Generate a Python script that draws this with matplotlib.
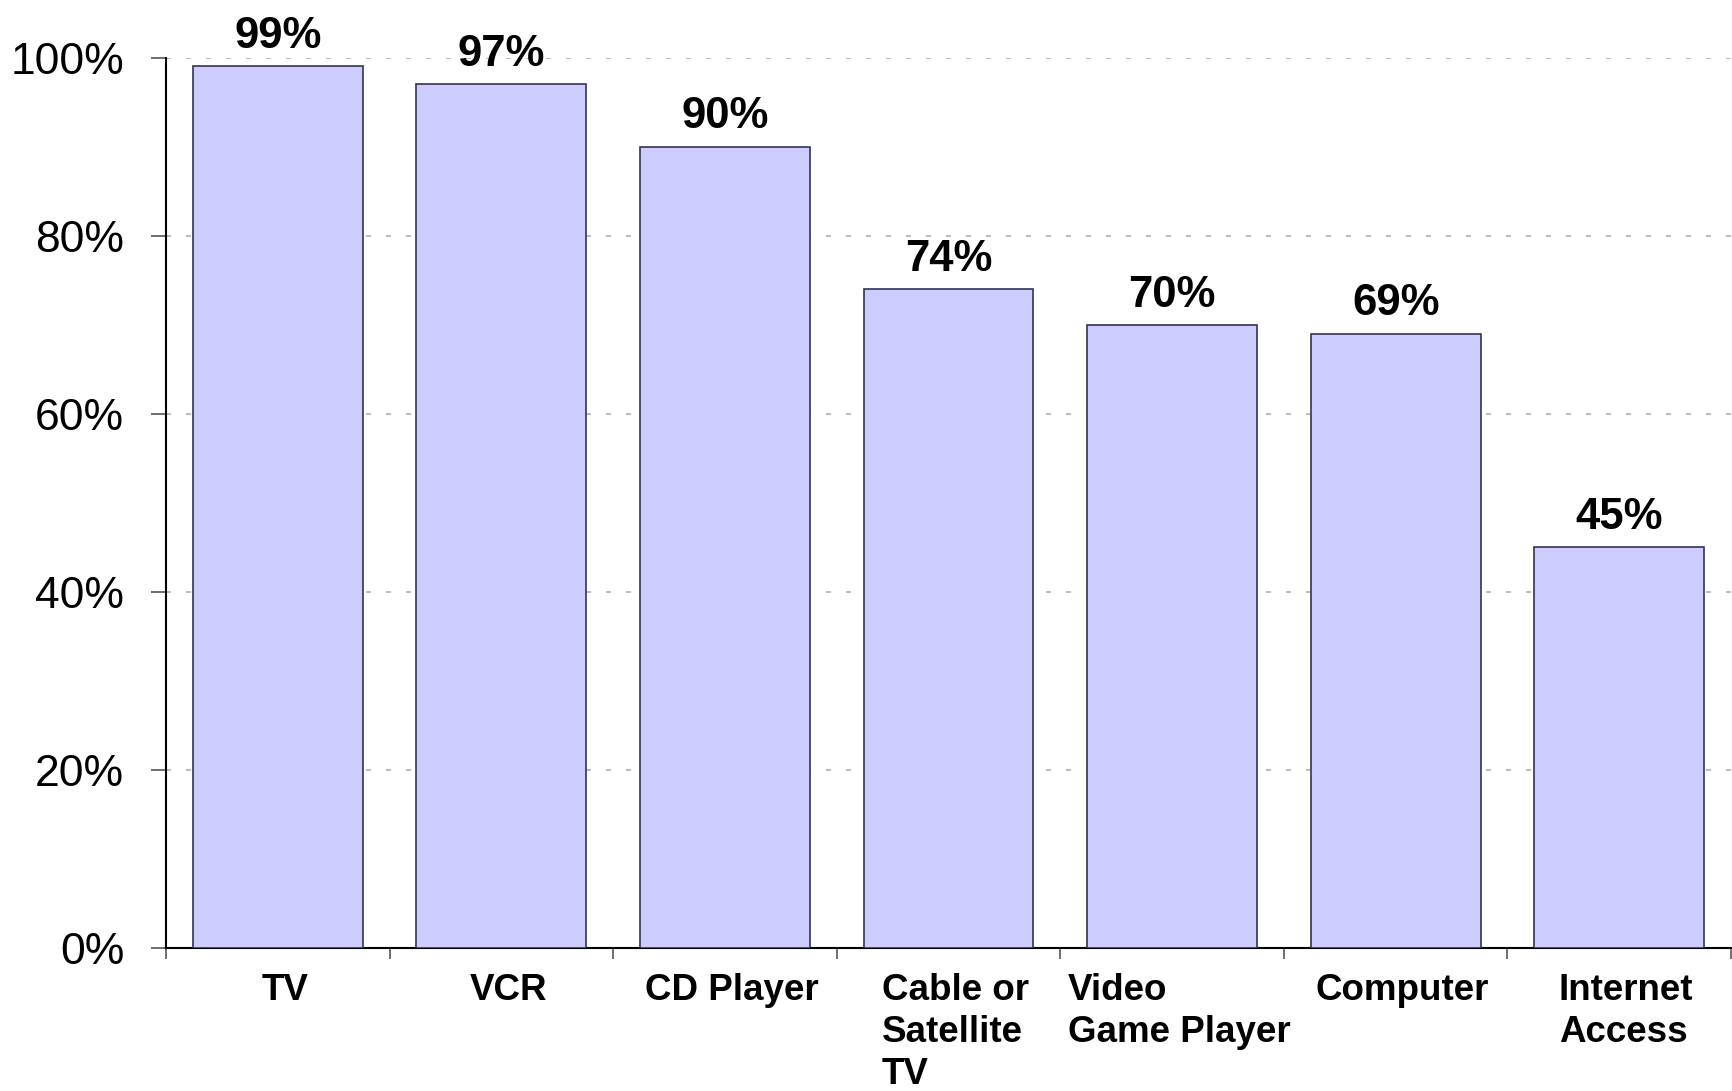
import numpy as np
import matplotlib
matplotlib.use("Agg")
import matplotlib.pyplot as plt
from matplotlib.ticker import PercentFormatter

plt.rcParams["font.family"] = ["Liberation Sans", "DejaVu Sans"]

categories = ["TV", "VCR", "CD Player", "Cable or\nSatellite\nTV",
              "Video\nGame Player", "Computer", "Internet\nAccess"]
values = [99, 97, 90, 74, 70, 69, 45]
y_ticks = [0, 20, 40, 60, 80, 100]

fig = plt.figure(figsize=(17.33, 10.91), dpi=100)
ax = fig.add_axes([166/1733, 143/1091, 1565/1733, 890.5/1091])

x = np.arange(len(categories))
bars = ax.bar(x, values, width=0.76, color="#CCCCFF",
              edgecolor="#333355", linewidth=1.2, zorder=3)

for xi, v in zip(x, values):
    ax.annotate(f"{v}%", (xi, v), xytext=(0, 13), textcoords="offset points",
                ha="center", va="baseline", fontsize=31.5, fontweight="bold")

ax.set_xlim(-0.5, len(categories) - 0.5)
ax.set_ylim(0, 100)
ax.set_yticks(y_ticks)
ax.yaxis.set_major_formatter(PercentFormatter(decimals=0))
ax.tick_params(axis="y", labelsize=32, length=11, width=1.2,
               color="#555555", pad=19)
ax.yaxis.grid(True, color="#b0b0b0", linestyle=(0, (3, 9)), linewidth=1.2)
ax.set_axisbelow(True)

# category boundaries get the ticks, names sit between them
ax.set_xticks(np.arange(len(categories) + 1) - 0.5)
ax.set_xticklabels([])
ax.tick_params(axis="x", length=8, width=1.2, color="#555555")
for xi, name in zip(x, categories):
    ax.annotate(name, (xi, 0), xytext=(5, -18), textcoords="offset points",
                ha="center", va="top", multialignment="left",
                fontsize=26.5, fontweight="bold", linespacing=1.25)

for s in ["top", "right"]:
    ax.spines[s].set_visible(False)
ax.spines["left"].set_linewidth(1.5)
ax.spines["bottom"].set_linewidth(1.5)

fig.savefig("out.png", dpi=100)
